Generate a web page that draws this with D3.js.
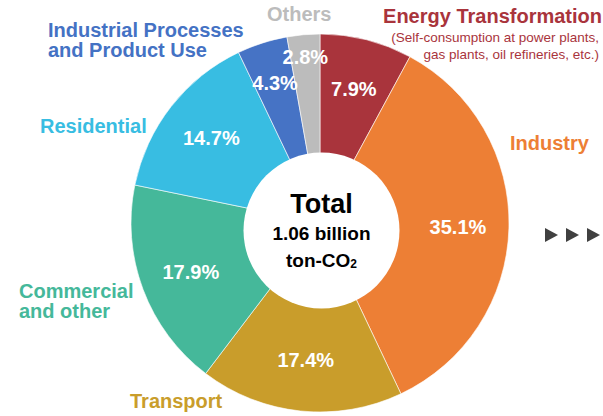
<!DOCTYPE html>
<html>
<head>
<meta charset="utf-8">
<script src="https://cdn.jsdelivr.net/npm/d3@7"></script>
<style>
  html, body { margin: 0; padding: 0; background: #fff; }
  svg { display: block; font-family: "Liberation Sans", Arial, sans-serif; }
</style>
</head>
<body>
<div id="chart"></div>
<script>
// shares of CO2 emissions by sector, clockwise from 12 o'clock
const categories = ["Energy Transformation", "Industry", "Transport", "Commercial and other",
    "Residential", "Industrial Processes and Product Use", "Others"];
const shares = [7.9, 35.1, 17.4, 17.9, 14.7, 4.3, 2.8];
const sliceColors = ["#a9343c", "#ed7f35", "#c99d2b", "#45b89a", "#38bde2", "#4673c5", "#bcbcbc"];
const labelLines = [
    ["Energy Transformation"],
    ["Industry"],
    ["Transport"],
    ["Commercial", "and other"],
    ["Residential"],
    ["Industrial Processes", "and Product Use"],
    ["Others"]
];
const noteLines = ["(Self-consumption at power plants,", "gas plants, oil refineries, etc.)"];
const totalLines = ["Total", "1.06 billion", "ton-CO"];

const width = 603, height = 416;
const cx = 320, cy = 223;
const outerR = 189;

const svg = d3.select("#chart").append("svg")
    .attr("width", width)
    .attr("height", height)
    .attr("viewBox", `0 0 ${width} ${height}`);

const pie = d3.pie().sort(null).value(d => d);
const arcs = pie(shares);

const arc = d3.arc().innerRadius(0).outerRadius(outerR);

const g = svg.append("g").attr("transform", `translate(${cx},${cy})`);

g.selectAll("path.slice")
    .data(arcs)
    .join("path")
    .attr("class", "slice")
    .attr("d", arc)
    .attr("fill", (d, i) => sliceColors[i])
    .attr("stroke", "#fff")
    .attr("stroke-width", 0.6);

// small slices get their number pushed outward
function labelRadius(v) {
    if (v < 3.5) return 167;
    if (v < 5) return 147;
    return 138;
}

g.selectAll("text.pct")
    .data(arcs)
    .join("text")
    .attr("class", "pct")
    .attr("x", d => labelRadius(d.data) * Math.sin((d.startAngle + d.endAngle) / 2))
    .attr("y", d => -labelRadius(d.data) * Math.cos((d.startAngle + d.endAngle) / 2))
    .attr("dy", "0.36em")
    .attr("text-anchor", "middle")
    .attr("fill", "#fff")
    .attr("font-weight", "bold")
    .attr("font-size", 20)
    .text(d => d.data.toFixed(1) + "%");

// white hole in the middle (drawn over the pie, sits a bit low)
svg.append("circle")
    .attr("cx", 321.5)
    .attr("cy", 230.5)
    .attr("r", 78)
    .attr("fill", "#fff");

const center = svg.append("text")
    .attr("text-anchor", "middle")
    .attr("font-weight", "bold")
    .attr("fill", "#000");
center.append("tspan").attr("x", 321.5).attr("y", 213).attr("font-size", 27).text(totalLines[0]);
center.append("tspan").attr("x", 321.5).attr("y", 240).attr("font-size", 19).text(totalLines[1]);
const co2 = center.append("tspan").attr("x", 321.5).attr("y", 267).attr("font-size", 19);
co2.append("tspan").text(totalLines[2]);
co2.append("tspan").attr("font-size", 12).attr("dy", 1).text("2");

// category labels around the ring
const labelPos = [
    { x: 602, y: 23, anchor: "end" },
    { x: 510, y: 150, anchor: "start" },
    { x: 130, y: 408, anchor: "start" },
    { x: 19, y: 298, anchor: "start" },
    { x: 40, y: 133, anchor: "start" },
    { x: 48, y: 37, anchor: "start" },
    { x: 267, y: 21, anchor: "start" }
];

labelLines.forEach((lines, i) => {
    const p = labelPos[i];
    const t = svg.append("text")
        .attr("text-anchor", p.anchor)
        .attr("font-weight", "bold")
        .attr("font-size", 20)
        .attr("fill", i === 5 ? "#4472c4" : sliceColors[i]);
    lines.forEach((line, j) => {
        t.append("tspan").attr("x", p.x).attr("y", p.y + j * 20).text(line);
    });
});

const note = svg.append("text")
    .attr("text-anchor", "end")
    .attr("font-size", 13.5)
    .attr("fill", sliceColors[0]);
noteLines.forEach((line, j) => {
    note.append("tspan").attr("x", 599).attr("y", 42 + j * 17).text(line);
});

// arrows on the right
svg.selectAll("path.arrow")
    .data([0, 1, 2])
    .join("path")
    .attr("class", "arrow")
    .attr("d", k => {
        const x0 = 545 + k * 21;
        return `M${x0},228 L${x0 + 13},235 L${x0},242 Z`;
    })
    .attr("fill", "#404040");
</script>
</body>
</html>
